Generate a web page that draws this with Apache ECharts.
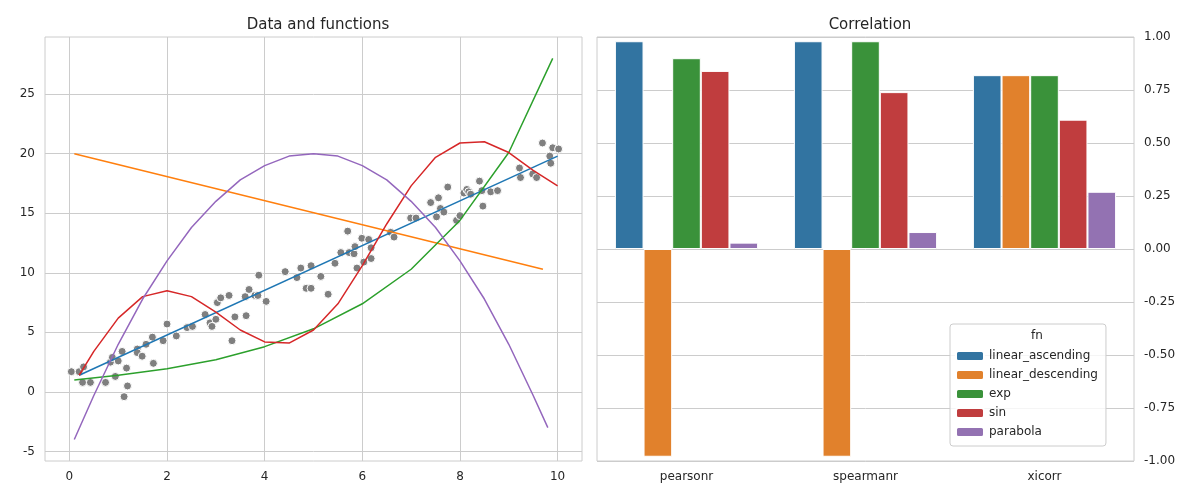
<!DOCTYPE html>
<html><head><meta charset="utf-8">
<script src="https://cdn.jsdelivr.net/npm/echarts@6/dist/echarts.min.js"></script>
<style>html,body{margin:0;background:#fff}#c{width:1200px;height:500px}</style></head>
<body><div id="c"></div>
<script>
const scatterPts = [[0.04,1.7],[0.2,1.7],[0.29,2.1],[0.27,0.8],[0.43,0.8],[0.74,0.8],[0.84,2.5],[0.88,2.9],[0.94,1.3],[1.0,2.6],[1.08,3.4],[1.17,2.0],[1.12,-0.4],[1.19,0.5],[1.39,3.6],[1.39,3.3],[1.49,3.0],[1.57,4.0],[1.7,4.6],[1.72,2.4],[1.92,4.3],[2.0,5.7],[2.19,4.7],[2.41,5.4],[2.52,5.5],[2.78,6.5],[2.88,5.8],[2.92,5.5],[3.0,6.1],[3.03,7.5],[3.1,7.9],[3.27,8.1],[3.33,4.3],[3.39,6.3],[3.62,6.4],[3.6,8.0],[3.68,8.6],[3.8,8.1],[3.86,8.1],[3.88,9.8],[4.03,7.6],[4.42,10.1],[4.66,9.6],[4.74,10.4],[4.85,8.7],[4.95,10.6],[4.95,8.7],[5.15,9.7],[5.3,8.2],[5.44,10.8],[5.56,11.7],[5.7,13.5],[5.73,11.7],[5.83,11.6],[5.85,12.2],[5.89,10.4],[5.99,12.9],[6.03,10.9],[6.13,12.8],[6.18,12.1],[6.18,11.2],[6.58,13.4],[6.65,13.0],[6.99,14.6],[7.1,14.6],[7.4,15.9],[7.52,14.7],[7.56,16.3],[7.6,15.4],[7.67,15.1],[7.75,17.2],[7.93,14.4],[8.0,14.8],[8.08,16.7],[8.14,17.0],[8.18,16.8],[8.22,16.6],[8.4,17.7],[8.47,15.6],[8.45,16.9],[8.63,16.8],[8.77,16.9],[9.22,18.8],[9.24,18.0],[9.49,18.3],[9.57,18.0],[9.69,20.9],[9.84,19.8],[9.86,19.2],[9.9,20.5],[10.02,20.4]];
const linAsc = [[0.2,1.4],[10,19.8]];
const linDesc = [[0.1,20.0],[9.7,10.3]];
const expLine = [[0.1,1.0],[1,1.4],[2,1.95],[3,2.7],[4,3.8],[5,5.3],[6,7.4],[7,10.3],[8,14.4],[9,20.1],[9.9,28.0]];
const sinLine = [[0.2,1.4],[0.5,3.4],[1,6.2],[1.5,8.0],[2,8.5],[2.5,8.0],[3,6.7],[3.5,5.2],[4,4.2],[4.5,4.1],[5,5.2],[5.5,7.4],[6,10.6],[6.5,14.1],[7,17.3],[7.5,19.7],[8,20.9],[8.5,21.0],[9,20.1],[9.5,18.6],[10,17.3]];
const parabLine = [[0.1,-4.0],[0.5,-0.3],[1,4.0],[1.5,7.8],[2,11.0],[2.5,13.8],[3,16.0],[3.5,17.8],[4,19.0],[4.5,19.8],[5,20.0],[5.5,19.8],[6,19.0],[6.5,17.8],[7,16.0],[7.5,13.8],[8,11.0],[8.5,7.8],[9,4.0],[9.5,-0.3],[9.8,-3.0]];
const leftYTicks = [-5,0,5,10,15,20,25];
const leftXTicks = [0,2,4,6,8,10];
const corrCats = ['pearsonr','spearmanr','xicorr'];
const fnNames = ['linear_ascending','linear_descending','exp','sin','parabola'];
const corrVals = {
  linear_ascending:[0.98,0.98,0.82],
  linear_descending:[-0.98,-0.98,0.82],
  exp:[0.90,0.98,0.82],
  sin:[0.84,0.74,0.61],
  parabola:[0.03,0.08,0.27]
};
const lineColors = ['#1f77b4','#ff7f0e','#2ca02c','#d62728','#9467bd'];
const barColors = ['#3274a1','#e1812c','#3a923a','#c03d3e','#9372b2'];
const F = 'DejaVu Sans';
const grid = '#cccccc';
const txt = {color:'#262626',fontFamily:F,fontSize:12};
const chart = echarts.init(document.getElementById('c'));
const lines = [linAsc,linDesc,expLine,sinLine,parabLine].map((d,i)=>({type:'line',xAxisIndex:0,yAxisIndex:0,data:d,showSymbol:false,smooth:false,lineStyle:{color:lineColors[i],width:1.5},z:3}));
chart.setOption({
  animation:false,
  title:[{text:'Data and functions',left:313,top:13,textAlign:'center',textStyle:{fontFamily:F,fontSize:15,fontWeight:'normal',color:'#262626'}},
         {text:'Correlation',left:865,top:13,textAlign:'center',textStyle:{fontFamily:F,fontSize:15,fontWeight:'normal',color:'#262626'}}],
  grid:[{left:45,top:37,width:537,height:424},{left:597,top:37,width:537,height:424}],
  xAxis:[
    {type:'value',gridIndex:0,min:-0.5,max:10.5,axisLine:{show:false},axisTick:{show:false,customValues:leftXTicks},
     axisLabel:Object.assign({customValues:leftXTicks,margin:10},txt),splitLine:{show:true,lineStyle:{color:grid}}},
    {type:'category',gridIndex:1,data:corrCats,axisLine:{show:false},axisTick:{show:false,alignWithLabel:true},
     axisLabel:Object.assign({margin:10},txt),splitLine:{show:false}}
  ],
  yAxis:[
    {type:'value',gridIndex:0,min:-5.8,max:29.8,axisLine:{show:false},axisTick:{show:false,customValues:leftYTicks},
     axisLabel:Object.assign({customValues:leftYTicks,margin:10},txt),splitLine:{show:true,lineStyle:{color:grid}}},
    {type:'value',gridIndex:1,position:'right',min:-1,max:1,interval:0.25,axisLine:{show:false},axisTick:{show:false},
     axisLabel:Object.assign({margin:10,formatter:v=>v.toFixed(2)},txt),splitLine:{show:true,lineStyle:{color:grid}}}
  ],
  legend:{data:fnNames,orient:'vertical',left:950,top:324,itemWidth:28,itemHeight:10,itemGap:7,
    padding:[26,8,8,5],borderColor:'#cccccc',borderWidth:1,borderRadius:3,backgroundColor:'rgba(255,255,255,0.8)',
    textStyle:{fontFamily:F,fontSize:12,color:'#262626'}},
  graphic:[
    {type:'rect',shape:{x:45,y:37,width:537,height:424},style:{fill:'none',stroke:grid,lineWidth:1},silent:true,z:10},
    {type:'rect',shape:{x:597,y:37,width:537,height:424},style:{fill:'none',stroke:grid,lineWidth:1},silent:true,z:10},
    {type:'text',left:1031,top:330,style:{text:'fn',fontFamily:F,fontSize:12,fill:'#262626'},z:20}
  ],
  series:[
    {type:'scatter',xAxisIndex:0,yAxisIndex:0,data:scatterPts,symbolSize:8,itemStyle:{color:'#7f7f7f',borderColor:'#fff',borderWidth:1,opacity:1},z:2},
    ...lines,
    ...fnNames.map((n,i)=>({type:'bar',name:n,xAxisIndex:1,yAxisIndex:1,data:corrVals[n],barGap:'0%',barCategoryGap:'20%',
      itemStyle:{color:barColors[i],borderColor:'#fff',borderWidth:1}}))
  ]
});
</script></body></html>
